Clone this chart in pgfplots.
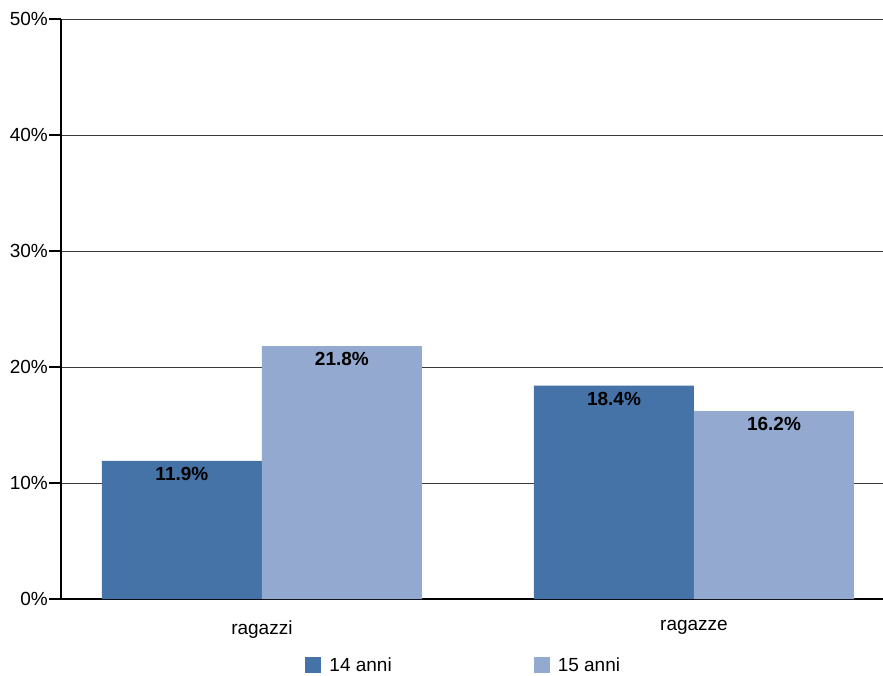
\documentclass[border=0pt]{standalone}
\usepackage{pgfplots}
\pgfplotsset{compat=1.18}
\usepackage{fontspec}
\setmainfont{Liberation Sans}

\definecolor{darkblue}{HTML}{4572A7}
\definecolor{lightblue}{HTML}{93A9CF}
\definecolor{gridgray}{HTML}{3A3A3A}

\begin{document}
\begin{tikzpicture}[x=1pt,y=1pt]
\path[use as bounding box] (0,0) rectangle (883,675);
\begin{axis}[
    at={(61pt,76pt)}, anchor=south west,
    scale only axis,
    width=822pt, height=580pt,
    font=\fontsize{19}{21}\selectfont,
    /pgf/number format/assume math mode=true,
    ybar=0pt,
    bar width=160pt,
    xmin=-0.465, xmax=1.4375,
    ymin=0, ymax=50,
    xtick={0,1},
    xticklabels={ragazzi,ragazze},
    ytick={0,10,20,30,40,50},
    yticklabel={\pgfmathprintnumber{\tick}\%},
    axis x line=bottom,
    axis y line=left,
    axis line style={line width=2pt, -},
    x tick style={draw=none},
    y tick style={black, line width=1.5pt},
    tick align=outside,
    major tick length=12pt,
    yticklabel style={inner sep=1pt},
    xticklabel style={yshift=-6pt},
    ymajorgrids=true,
    grid style={gridgray, line width=1pt},
    nodes near coords={\pgfmathprintnumber[fixed,fixed zerofill,precision=1]{\pgfplotspointmeta}\%},
    every node near coord/.append style={anchor=north, font=\fontsize{19}{21}\selectfont\bfseries, yshift=-3pt},
    legend columns=2,
    legend style={at={(0.49,-0.114)}, anchor=center, draw=none, fill=none,
        font=\fontsize{19}{21}\selectfont,
        /tikz/every even column/.append style={column sep=140pt}},
    legend image code/.code={\fill[#1] (0pt,-8pt) rectangle (16pt,8pt); \path (22pt,0pt);},
]
\addplot[fill=darkblue, draw=none] coordinates {(0,11.9) (1,18.4)};
\addplot[fill=lightblue, draw=none] coordinates {(0,21.8) (1,16.2)};
\legend{14 anni, 15 anni}
\end{axis}
\end{tikzpicture}
\end{document}
